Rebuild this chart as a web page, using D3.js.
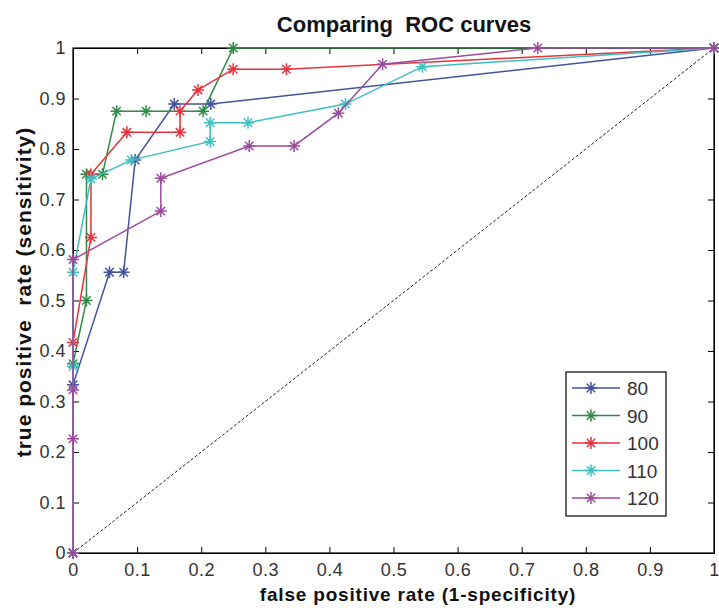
<!DOCTYPE html>
<html><head><meta charset="utf-8">
<script src="https://cdn.jsdelivr.net/npm/d3@7"></script>
<style>body{margin:0;background:#fff}svg{display:block}text{white-space:pre}</style>
</head><body><svg id="c" width="719" height="608"></svg>
<script>
const seriesNames = ["80","90","100","110","120"];
const seriesColors = ["#45529f","#2f8a45","#e8323c","#3cc0c0","#9c4c9c"];
const fpr80  = [0, 0, 0.057, 0.079, 0.097, 0.158, 0.215, 1];
const tpr80  = [0, 0.333, 0.556, 0.556, 0.778, 0.889, 0.889, 1];
const fpr90  = [0, 0, 0.021, 0.021, 0.046, 0.068, 0.114, 0.203, 0.25, 1];
const tpr90  = [0, 0.375, 0.5, 0.75, 0.75, 0.875, 0.875, 0.875, 1, 1];
const fpr100 = [0, 0, 0.028, 0.028, 0.084, 0.167, 0.167, 0.195, 0.25, 0.333, 1];
const tpr100 = [0, 0.417, 0.625, 0.75, 0.833, 0.833, 0.875, 0.917, 0.958, 0.958, 1];
const fpr110 = [0, 0, 0, 0.028, 0.091, 0.214, 0.214, 0.273, 0.425, 0.545, 1];
const tpr110 = [0, 0.37, 0.556, 0.741, 0.778, 0.815, 0.852, 0.852, 0.889, 0.963, 1];
const fpr120 = [0, 0, 0, 0, 0.137, 0.137, 0.275, 0.345, 0.414, 0.483, 0.725, 1];
const tpr120 = [0, 0.226, 0.323, 0.581, 0.677, 0.742, 0.806, 0.806, 0.871, 0.968, 1, 1];
const xTicks = [0,0.1,0.2,0.3,0.4,0.5,0.6,0.7,0.8,0.9,1];
const yTicks = [0,0.1,0.2,0.3,0.4,0.5,0.6,0.7,0.8,0.9,1];

const fprs=[fpr80,fpr90,fpr100,fpr110,fpr120];
const tprs=[tpr80,tpr90,tpr100,tpr110,tpr120];
const svg=d3.select("#c");
const L=73,R=714,T=48,B=553;
const x=d3.scaleLinear().domain([0,1]).range([L,R]);
const y=d3.scaleLinear().domain([0,1]).range([B,T]);
const font="'Liberation Sans', Arial, sans-serif";
const fmt=d=>d===0?"0":d===1?"1":d3.format(".1f")(d);

// box
svg.append("rect").attr("x",L).attr("y",T).attr("width",R-L).attr("height",B-T).attr("fill","none").attr("stroke","#000").attr("stroke-width",1.2);
svg.append("g").attr("transform",`translate(0,${B})`).call(d3.axisBottom(x).tickValues(xTicks).tickFormat(fmt).tickSizeInner(-6).tickSizeOuter(0).tickPadding(10));
svg.append("g").attr("transform",`translate(${L},0)`).call(d3.axisLeft(y).tickValues(yTicks).tickFormat(fmt).tickSizeInner(-6).tickSizeOuter(0).tickPadding(7));
svg.append("g").attr("transform",`translate(0,${T})`).call(d3.axisTop(x).tickValues(xTicks).tickFormat("").tickSizeInner(-6).tickSizeOuter(0));
svg.append("g").attr("transform",`translate(${R},0)`).call(d3.axisRight(y).tickValues(yTicks).tickFormat("").tickSizeInner(-6).tickSizeOuter(0));
svg.selectAll(".domain").attr("stroke","#000");
svg.selectAll(".tick line").attr("stroke","#000");
svg.selectAll(".tick text").attr("font-family",font).attr("font-size",18).attr("letter-spacing",0.5).attr("fill","#333");

// diagonal
svg.append("line").attr("x1",x(0)).attr("y1",y(0)).attr("x2",x(1)).attr("y2",y(1)).attr("stroke","#222").attr("stroke-width",1).attr("stroke-dasharray","3,2");

function star(g,cx,cy,col,r){
  const p=`M${cx-r},${cy}L${cx+r},${cy}M${cx},${cy-r}L${cx},${cy+r}M${cx-r*0.7},${cy-r*0.7}L${cx+r*0.7},${cy+r*0.7}M${cx-r*0.7},${cy+r*0.7}L${cx+r*0.7},${cy-r*0.7}`;
  g.append("path").attr("d",p).attr("stroke",col).attr("stroke-width",1.5).attr("fill","none");
}
const line=d3.line().x(d=>x(d[0])).y(d=>y(d[1]));
seriesNames.forEach((n,i)=>{
  const pts=fprs[i].map((f,j)=>[f,tprs[i][j]]);
  const g=svg.append("g");
  g.append("path").attr("d",line(pts)).attr("fill","none").attr("stroke",seriesColors[i]).attr("stroke-width",1.5);
  pts.forEach(p=>star(g,x(p[0]),y(p[1]),seriesColors[i],6));
});

// legend
const lg=svg.append("g");
lg.append("rect").attr("x",566).attr("y",372).attr("width",100).attr("height",144).attr("fill","#fff").attr("stroke","#000").attr("stroke-width",1.2);
seriesNames.forEach((n,i)=>{
  const yy=388+i*27.5;
  lg.append("line").attr("x1",572).attr("x2",620).attr("y1",yy).attr("y2",yy).attr("stroke",seriesColors[i]).attr("stroke-width",1.5);
  star(lg,591,yy,seriesColors[i],6);
  lg.append("text").attr("x",627).attr("y",yy+7).attr("font-family",font).attr("font-size",19).attr("fill","#333").text(n);
});

svg.append("text").attr("x",404).attr("y",32).attr("text-anchor","middle").attr("font-family",font).attr("font-weight","bold").attr("font-size",22).attr("fill","#111").text("Comparing  ROC curves");
svg.append("text").attr("x",418).attr("y",601).attr("text-anchor","middle").attr("font-family",font).attr("font-weight","bold").attr("font-size",19).attr("letter-spacing",0.8).attr("fill","#111").text("false positive rate (1-specificity)");
svg.append("text").attr("transform",`translate(31,292) rotate(-90)`).attr("text-anchor","middle").attr("font-family",font).attr("font-weight","bold").attr("font-size",21).attr("letter-spacing",1).attr("fill","#111").text("true positive  rate (sensitivity)");
</script></body></html>
